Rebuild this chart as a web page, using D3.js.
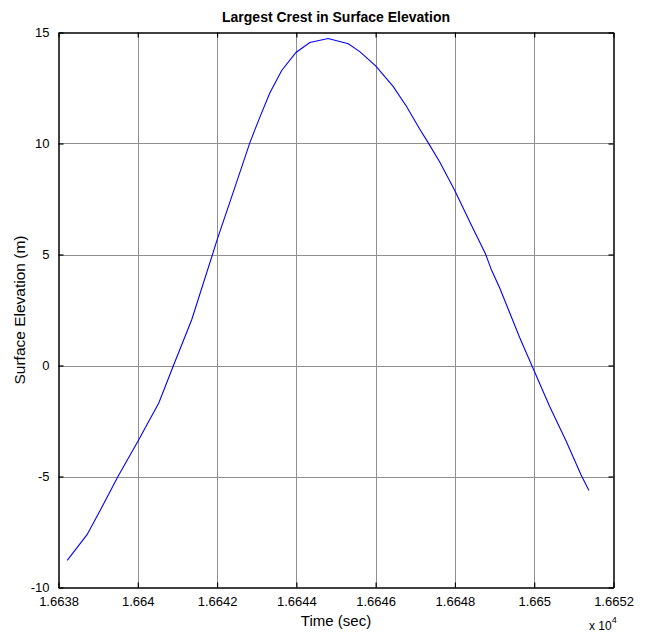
<!DOCTYPE html>
<html>
<head>
<meta charset="utf-8">
<script src="https://cdn.jsdelivr.net/npm/d3@7"></script>
<style>
  html, body { margin: 0; padding: 0; background: #fff; }
  svg { display: block; font-family: "Liberation Sans", Arial, sans-serif; }
</style>
</head>
<body>
<svg id="chart" width="646" height="633"></svg>
<script>
// ---- data ----
const timeSec = [16638.22, 16638.72, 16639.06, 16639.50, 16640.00, 16640.23, 16640.53, 16640.90,
  16641.36, 16641.89, 16642.00, 16642.37, 16642.83, 16643.08, 16643.33, 16643.63, 16643.99,
  16644.34, 16644.80, 16645.31, 16645.60, 16646.00, 16646.44, 16646.78, 16647.11, 16647.32,
  16647.61, 16647.99, 16648.41, 16648.77, 16648.92, 16649.13, 16649.63, 16649.97, 16650.39,
  16650.81, 16651.18, 16651.38];
const elevation = [-8.78, -7.62, -6.50, -5.00, -3.42, -2.67, -1.69, 0.00,
  2.06, 5.03, 5.66, 7.61, 10.05, 11.19, 12.27, 13.29, 14.10,
  14.55, 14.73, 14.49, 14.14, 13.50, 12.57, 11.67, 10.65, 10.05,
  9.19, 7.91, 6.34, 5.03, 4.31, 3.49, 1.27, -0.12, -1.85,
  -3.42, -4.92, -5.63];
const xTicks = [16638, 16640, 16642, 16644, 16646, 16648, 16650, 16652];
const xTickLabels = ["1.6638", "1.664", "1.6642", "1.6644", "1.6646", "1.6648", "1.665", "1.6652"];
const yTicks = [-10, -5, 0, 5, 10, 15];
const yTickLabels = ["-10", "-5", "0", "5", "10", "15"];
const titleText = "Largest Crest in Surface Elevation";
const xLabelText = "Time (sec)";
const yLabelText = "Surface Elevation (m)";

// ---- layout ----
const L = 58.5, R = 613.5, T = 32.5, B = 587.5;
const svg = d3.select("#chart");

const x = d3.scaleLinear().domain([16638, 16652]).range([L, R]);
const y = d3.scaleLinear().domain([-10, 15]).range([B, T]);

// grid
const grid = svg.append("g").attr("stroke", "#8f8f8f").attr("stroke-width", 1);
grid.selectAll("line.gx").data(xTicks.slice(1, -1)).join("line")
  .attr("x1", d => Math.round(x(d)) + 0.5).attr("x2", d => Math.round(x(d)) + 0.5)
  .attr("y1", T).attr("y2", B);
grid.selectAll("line.gy").data(yTicks.slice(1, -1)).join("line")
  .attr("y1", d => Math.round(y(d)) + 0.5).attr("y2", d => Math.round(y(d)) + 0.5)
  .attr("x1", L).attr("x2", R);

// data line
const line = d3.line().x((d, i) => x(timeSec[i])).y(d => y(d));
svg.append("path").datum(elevation)
  .attr("d", line).attr("fill", "none").attr("stroke", "#0000ff").attr("stroke-width", 1.1);

// axes (MATLAB-like: inward ticks on all four sides)
const tickLen = 5;
const axB = d3.axisBottom(x).tickValues(xTicks).tickFormat((d, i) => xTickLabels[i]).tickSizeInner(-tickLen).tickSizeOuter(0).tickPadding(9);
const axT = d3.axisTop(x).tickValues(xTicks).tickFormat("").tickSizeInner(-tickLen).tickSizeOuter(0);
const axLft = d3.axisLeft(y).tickValues(yTicks).tickFormat((d, i) => yTickLabels[i]).tickSizeInner(-tickLen).tickSizeOuter(0).tickPadding(9);
const axRt = d3.axisRight(y).tickValues(yTicks).tickFormat("").tickSizeInner(-tickLen).tickSizeOuter(0);

function style(g) {
  g.select(".domain").attr("stroke", "#000").attr("stroke-width", 1.5);
  g.selectAll(".tick line").attr("stroke", "#000").attr("stroke-width", 1.2);
  g.selectAll(".tick text").attr("fill", "#000").attr("font-size", 13)
    .attr("font-family", "Liberation Sans, Arial, sans-serif");
}
svg.append("g").attr("transform", `translate(0,${B})`).call(axB).call(style)
  .selectAll(".tick text").attr("dy", "0.71em");
svg.append("g").attr("transform", `translate(0,${T})`).call(axT).call(style);
svg.append("g").attr("transform", `translate(${L},0)`).call(axLft).call(style);
svg.append("g").attr("transform", `translate(${R},0)`).call(axRt).call(style);

// title
svg.append("text").attr("x", (L + R) / 2).attr("y", 22).attr("text-anchor", "middle")
  .attr("font-size", 14).attr("font-weight", "bold").text(titleText);

// x label
svg.append("text").attr("x", (L + R) / 2).attr("y", 626).attr("text-anchor", "middle")
  .attr("font-size", 15).text(xLabelText);

// exponent
const ex = svg.append("text").attr("x", 589).attr("y", 630).attr("font-size", 12);
ex.append("tspan").text("x 10");
ex.append("tspan").attr("dy", -7).attr("font-size", 9).text("4");

// y label
svg.append("text").attr("transform", `translate(25,${(T + B) / 2}) rotate(-90)`)
  .attr("text-anchor", "middle").attr("font-size", 15.5).text(yLabelText);
</script>
</body>
</html>
